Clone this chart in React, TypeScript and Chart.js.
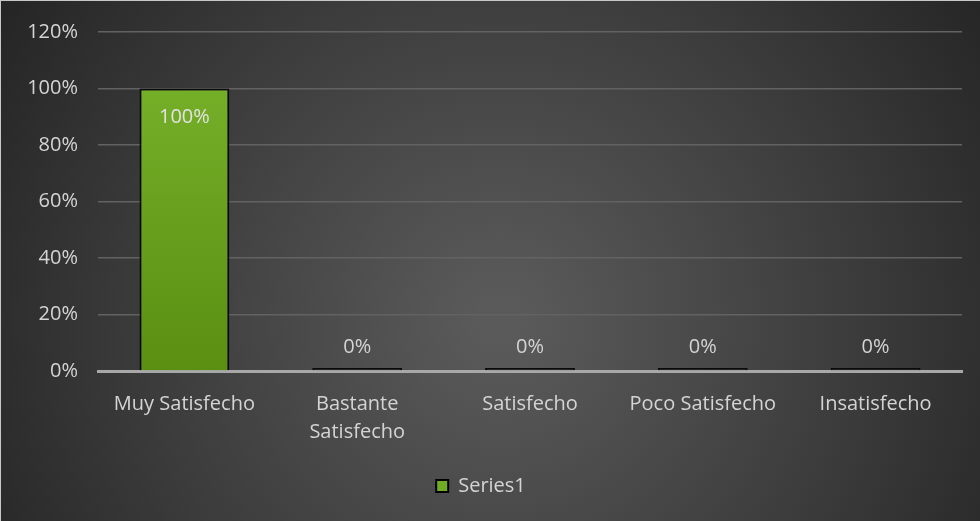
import React, { useEffect, useRef } from "react";
import { Chart, registerables } from "chart.js";

Chart.register(...registerables);

const categories: (string | string[])[] = [
  "Muy Satisfecho",
  ["Bastante", "Satisfecho"],
  "Satisfecho",
  "Poco Satisfecho",
  "Insatisfecho",
];
const series1: number[] = [1.0, 0, 0, 0, 0];
const seriesName = "Series1";
const yTicks: number[] = [0, 0.2, 0.4, 0.6, 0.8, 1.0, 1.2];

const FONT = "'Open Sans', 'Noto Sans', sans-serif";
const TEXT = "#d4d4d4";
const FS = 20;

const bgPlugin = {
  id: "bgPlugin",
  beforeDraw(chart: any) {
    const { ctx, width, height } = chart;
    ctx.save();
    const g = ctx.createRadialGradient(500, 320, 20, 500, 320, 620);
    g.addColorStop(0, "#5a5a5a");
    g.addColorStop(0.55, "#3c3c3c");
    g.addColorStop(1, "#222222");
    ctx.fillStyle = g;
    ctx.fillRect(0, 0, width, height);
    ctx.fillStyle = "#c8c8c8";
    ctx.fillRect(0, 0, width, 1);
    ctx.fillRect(0, 0, 1, height);
    ctx.restore();
  },
};

const labelPlugin = {
  id: "labelPlugin",
  afterDatasetsDraw(chart: any) {
    const { ctx } = chart;
    const meta = chart.getDatasetMeta(0);
    const data = chart.data.datasets[0].data as number[];
    ctx.save();
    ctx.font = `${FS}px ${FONT}`;
    ctx.textAlign = "center";
    ctx.textBaseline = "middle";
    meta.data.forEach((bar: any, i: number) => {
      const v = data[i];
      const txt = Math.round(v * 100) + "%";
      const base = chart.scales.y.getPixelForValue(0);
      const top = chart.scales.y.getPixelForValue(v);
      if (v > 0.5) {
        ctx.fillStyle = "#e2e2e2";
        ctx.fillText(txt, bar.x, top + 29);
      } else {
        ctx.fillStyle = TEXT;
        ctx.fillText(txt, bar.x, base - 24);
      }
    });
    ctx.restore();
  },
};

export default function App() {
  const ref = useRef<HTMLCanvasElement | null>(null);
  useEffect(() => {
    document.body.style.margin = "0";
    if (!ref.current) return;
    Chart.defaults.font.family = FONT;
    const chart = new Chart(ref.current, {
      type: "bar",
      data: {
        labels: categories,
        datasets: [
          {
            label: seriesName,
            data: series1,
            backgroundColor: (c: any) => {
              const ch = c.chart;
              const area = ch.chartArea;
              const v = c.raw;
              if (!v) return "#1c1c1c";
              if (!area) return "#6aa220";
              const g = ch.ctx.createLinearGradient(0, area.top, 0, area.bottom);
              g.addColorStop(0, "#7ab52c");
              g.addColorStop(1, "#5a8f12");
              return g;
            },
            borderColor: "#0a0a0a",
            borderWidth: 2,
            borderSkipped: "bottom",
            minBarLength: 3,
            categoryPercentage: 1,
            barPercentage: 0.52,
          },
        ],
      },
      options: {
        animation: false,
        responsive: true,
        maintainAspectRatio: false,
        layout: { padding: { top: 31, right: 18, bottom: 15, left: 0 } },
        plugins: {
          tooltip: { enabled: false },
          legend: {
            position: "bottom",
            labels: {
              color: TEXT,
              font: { size: FS, family: FONT },
              boxWidth: 12,
              boxHeight: 12,
              padding: 10,
              generateLabels: () => [
                {
                  text: seriesName,
                  fillStyle: "#6fae22",
                  strokeStyle: "#000000",
                  lineWidth: 2,
                  fontColor: TEXT,
                  datasetIndex: 0,
                } as any,
              ],
            },
          },
        },
        scales: {
          x: {
            grid: { display: false, drawTicks: false },
            border: { display: true, color: "#a8a8a8", width: 3 },
            ticks: {
              color: TEXT,
              font: { size: FS, family: FONT, lineHeight: 1.4 },
              padding: 19,
              maxRotation: 0,
              autoSkip: false,
            },
            afterFit: (s: any) => {
              s.height = 95;
            },
          },
          y: {
            min: 0,
            max: 1.2,
            afterBuildTicks: (s: any) => {
              s.ticks = yTicks.map((v) => ({ value: v }));
            },
            grid: { color: "#626262", lineWidth: 1.5, drawTicks: false },
            border: { display: false },
            ticks: {
              color: TEXT,
              font: { size: FS, family: FONT },
              padding: 20,
              callback: (v: any) => Math.round(Number(v) * 100) + "%",
            },
            afterFit: (s: any) => {
              s.width = 98;
            },
          },
        },
      },
      plugins: [bgPlugin, labelPlugin],
    });
    return () => chart.destroy();
  }, []);
  return (
    <div style={{ width: 980, height: 521, position: "relative" }}>
      <canvas ref={ref} />
    </div>
  );
}
